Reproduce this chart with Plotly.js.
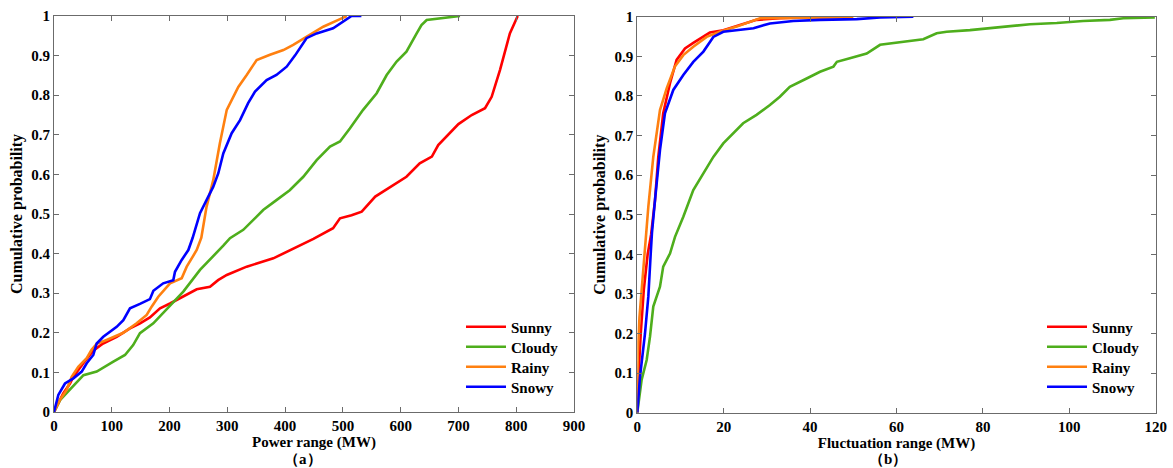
<!DOCTYPE html>
<html>
<head>
<meta charset="utf-8">
<script src="https://cdn.plot.ly/plotly-3.0.1.min.js"></script>
<style>html,body{margin:0;padding:0;background:#fff;}#chart{width:1173px;height:468px;}</style>
</head>
<body>
<div id="chart"></div>
<script>
// ---- Data: panel (a) Power range (MW) vs cumulative probability ----
const seriesNames = ["Sunny", "Cloudy", "Rainy", "Snowy"];

const aSunnyX = [0,16,27.7,33.5,50.8,68,85,108.5,131.5,149,166,183.5,200.8,226.7,247,270,284,299,333.5,379.6,425.8,449,483,495,515,532.6,556,579,610,633,654,665,691,700,723,746,757.5,772,789,802.6];
const aSunnyY = [0,0.047,0.072,0.089,0.123,0.155,0.173,0.19,0.211,0.224,0.239,0.262,0.274,0.295,0.31,0.316,0.333,0.346,0.367,0.388,0.42,0.437,0.464,0.489,0.497,0.506,0.544,0.565,0.594,0.628,0.645,0.674,0.712,0.727,0.75,0.767,0.796,0.864,0.956,1.0];

const aCloudyX = [0,10.4,51,73.9,102.7,122.9,137,148.8,171.9,200.8,223.8,252.7,267,293,304.6,327.6,345,362,385,408,431.5,454.6,477.7,495,512,535,558.5,575.8,593,610,627.7,636,645,668,702.7];
const aCloudyY = [0,0.03,0.093,0.102,0.127,0.144,0.169,0.199,0.224,0.27,0.304,0.359,0.38,0.42,0.439,0.46,0.485,0.51,0.535,0.56,0.594,0.636,0.67,0.683,0.716,0.763,0.805,0.851,0.885,0.91,0.956,0.977,0.99,0.994,1.0];

const aRainyX = [0,10,22,30.6,42,56.6,65,73.9,91,120,143,160.4,169,180.5,200.8,221,229.7,247,255,264,275.7,287,299,310,319,333.5,350.8,373.8,397,414,443,466,495,506.6];
const aRainyY = [0,0.03,0.056,0.089,0.114,0.136,0.157,0.172,0.182,0.2,0.224,0.245,0.266,0.291,0.325,0.338,0.367,0.409,0.44,0.518,0.586,0.678,0.763,0.796,0.821,0.851,0.889,0.902,0.914,0.927,0.952,0.973,0.992,1.0];

const aSnowyX = [0,7.5,19,33.5,48,56.6,68,73.9,85.3,108.5,120,131.5,148.8,166,172,189,206.5,209.4,221,232.5,240,252.7,267,275.7,284.4,293,307.5,322,336,347.9,368,385,402.7,417,437,454.6,483,500.7,515,532];
const aSnowyY = [0,0.043,0.072,0.085,0.102,0.123,0.144,0.173,0.19,0.215,0.232,0.262,0.273,0.285,0.306,0.325,0.333,0.354,0.384,0.409,0.44,0.502,0.544,0.569,0.603,0.653,0.704,0.737,0.78,0.809,0.838,0.851,0.872,0.9,0.944,0.956,0.969,0.986,1.0,1.0];

// ---- Data: panel (b) Fluctuation range (MW) vs cumulative probability ----
const bSunnyX = [0,0.3,0.8,1.5,2.4,3.2,4.1,4.86,6.0,7.57,9.1,11.04,12.96,16.8,19.9,23.8,27.6,33,40.7,45];
const bSunnyY = [0,0.1,0.2,0.31,0.40,0.45,0.537,0.646,0.756,0.832,0.891,0.92,0.934,0.96,0.966,0.979,0.992,0.996,0.998,1.0];

const bCloudyX = [0,1.0,2.17,2.94,3.7,5.25,6.0,7.57,8.73,10.65,12.96,15.3,17.6,19.9,22.2,24.5,27.6,30.7,33,35.3,39.2,42.3,45.4,46.2,49.2,53.1,56.2,59.3,62.4,66.2,69.3,71.6,77,81.6,84.7,90.9,97.1,103.2,109.4,112.5,119.8];
const bCloudyY = [0,0.083,0.133,0.192,0.268,0.318,0.369,0.402,0.444,0.495,0.562,0.605,0.646,0.68,0.706,0.731,0.752,0.777,0.798,0.823,0.844,0.861,0.874,0.886,0.895,0.907,0.929,0.933,0.937,0.943,0.958,0.962,0.966,0.971,0.976,0.981,0.984,0.989,0.992,0.996,0.998];

const bRainyX = [0,0.1,0.5,1.1,1.9,2.55,3.7,5.25,6.8,8.7,10.65,12.96,16.06,19.1,23,26.1,28.4,47.7,50];
const bRainyY = [0,0.15,0.24,0.32,0.41,0.52,0.646,0.764,0.819,0.874,0.903,0.924,0.949,0.962,0.975,0.987,0.996,0.998,1.0];

const bSnowyX = [0,0.62,1.78,2.55,3.1,3.4,4.1,5.25,6.4,8.33,10.65,12.96,15.3,17.6,19.9,23,26.9,30.7,36.1,42.3,50.8,56.2,63.9];
const bSnowyY = [0,0.09,0.2,0.293,0.40,0.455,0.537,0.663,0.756,0.815,0.853,0.886,0.912,0.949,0.962,0.966,0.971,0.983,0.989,0.992,0.994,0.998,1.0];

const xTicksA = [0,100,200,300,400,500,600,700,800,900];
const xTicksB = [0,20,40,60,80,100,120];
const yTicks = [0,0.1,0.2,0.3,0.4,0.5,0.6,0.7,0.8,0.9,1];
const yTickText = ["0","0.1","0.2","0.3","0.4","0.5","0.6","0.7","0.8","0.9","1"];

// ---- Styling ----
const colors = ["#ff0000", "#4eae1c", "#ff8010", "#0000ff"];
const W = 1173, H = 468;
const FONT = "Liberation Serif, Times New Roman, serif";

const aX = [aSunnyX, aCloudyX, aRainyX, aSnowyX];
const aY = [aSunnyY, aCloudyY, aRainyY, aSnowyY];
const bX = [bSunnyX, bCloudyX, bRainyX, bSnowyX];
const bY = [bSunnyY, bCloudyY, bRainyY, bSnowyY];

const legendFont = {family: FONT, size: 15, color: "#000", weight: "bold"};
const rowCenters = [327, 347, 367, 387];
const legendLeft = [461, 1042];

const traces = [];
const legends = {};
for (let p = 0; p < 2; p++) {
  for (let i = 0; i < 4; i++) {
    const idx = p * 4 + i + 1;
    const lid = idx === 1 ? "legend" : "legend" + idx;
    traces.push({
      x: p === 0 ? aX[i] : bX[i], y: p === 0 ? aY[i] : bY[i],
      name: seriesNames[i], type: "scatter", mode: "lines",
      line: {color: colors[i], width: 2.6},
      xaxis: p === 0 ? "x" : "x2", yaxis: p === 0 ? "y" : "y2", legend: lid
    });
    legends[lid] = {x: legendLeft[p] / W, y: 1 - rowCenters[i] / H, xanchor: "left", yanchor: "middle",
      bgcolor: "rgba(0,0,0,0)", borderwidth: 0, font: legendFont, itemwidth: 40};
  }
}

const tickFont = {family: FONT, size: 15, color: "#000", weight: "bold"};
const xTitleFont = {family: FONT, size: 15, color: "#000", weight: "bold"};
const yTitleFont = {family: FONT, size: 16, color: "#000", weight: "bold"};

const axisCommon = {
  showgrid: false, zeroline: false, showline: true, linecolor: "#6b6b6b", linewidth: 1,
  mirror: "allticks", ticks: "inside", ticklen: 5, tickcolor: "#6b6b6b", tickwidth: 1,
  tickfont: tickFont
};

const layout = Object.assign({
  width: W, height: H,
  margin: {l: 0, r: 0, t: 0, b: 0},
  paper_bgcolor: "#fff", plot_bgcolor: "#fff",
  font: {family: FONT, weight: "bold"},
  showlegend: true,
  xaxis: Object.assign({}, axisCommon, {
    domain: [54/W, 574/W], range: [0, 900], tickvals: xTicksA, anchor: "y",
    title: {text: "Power range (MW)", font: xTitleFont, standoff: 3}
  }),
  yaxis: Object.assign({}, axisCommon, {
    domain: [1 - 412/H, 1 - 16/H], range: [0, 1], tickvals: yTicks, ticktext: yTickText, anchor: "x",
    title: {text: "Cumulative probability", font: yTitleFont, standoff: 4}
  }),
  xaxis2: Object.assign({}, axisCommon, {
    domain: [637.3/W, 1155.7/W], range: [0, 120], tickvals: xTicksB, anchor: "y2",
    title: {text: "Fluctuation range (MW)", font: xTitleFont, standoff: 3}
  }),
  yaxis2: Object.assign({}, axisCommon, {
    domain: [1 - 412.7/H, 1 - 16.7/H], range: [0, 1], tickvals: yTicks, ticktext: yTickText, anchor: "x2",
    title: {text: "Cumulative probability", font: yTitleFont, standoff: 4}
  }),
  annotations: [
    {text: "（a）", x: 303/W, y: 1 - 459/H, xref: "paper", yref: "paper", showarrow: false,
     xanchor: "center", yanchor: "middle", font: {family: FONT, size: 15, color: "#000", weight: "bold"}},
    {text: "（b）", x: 888/W, y: 1 - 459/H, xref: "paper", yref: "paper", showarrow: false,
     xanchor: "center", yanchor: "middle", font: {family: FONT, size: 15, color: "#000", weight: "bold"}}
  ]
}, legends);

Plotly.newPlot("chart", traces, layout, {displayModeBar: false, staticPlot: true});
</script>
</body>
</html>
